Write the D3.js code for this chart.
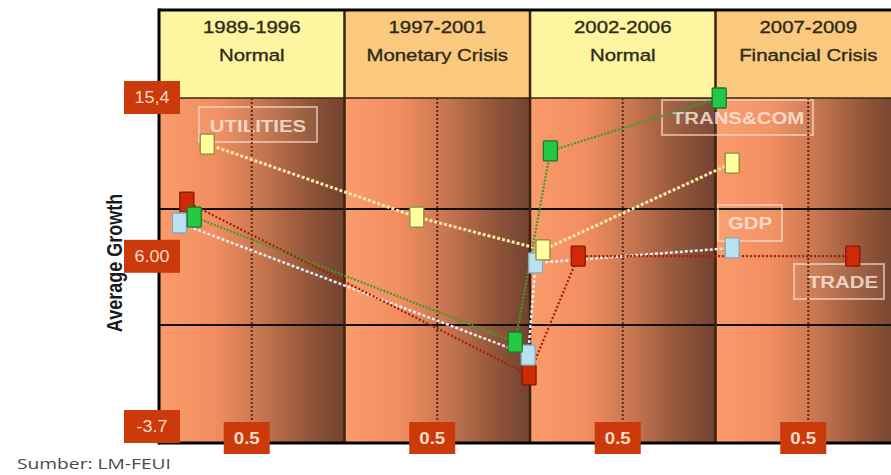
<!DOCTYPE html>
<html>
<head>
<meta charset="utf-8">
<script src="https://cdn.jsdelivr.net/npm/d3@7"></script>
<style>
  body { margin: 0; background: #fff; }
  svg { display: block; }
</style>
</head>
<body>
<svg id="chart" width="891" height="475"></svg>
<script>
// Periods and their economic regime
const periods = ["1989-1996", "1997-2001", "2002-2006", "2007-2009"];
const periodNames = ["Normal", "Monetary Crisis", "Normal", "Financial Crisis"];

// Position of each observation inside its period (0..1) and its average growth (%)
const utilitiesPos    = [0.26, 0.39, 0.07, 0.09];
const utilitiesGrowth = [12.85, 8.81, 6.99, 11.80];
const transComPos     = [0.19, 0.92, 0.11, 0.02];
const transComGrowth  = [8.81, 1.89, 12.47, 15.4];
const gdpPos          = [0.11, 0.99, 0.03, 0.09];
const gdpGrowth       = [8.48, 1.17, 6.27, 7.10];
const tradePos        = [0.15, 0.995, 0.26, 0.74];
const tradeGrowth     = [9.64, 0.07, 6.65, 6.65];

// Axis labels
const yTickValues = [15.4, 6.00, -3.7];
const yTickLabels = ["15,4", "6.00", "-3.7"];
const xTickValue  = 0.5;
const xTickLabels = ["0.5", "0.5", "0.5", "0.5"];
const gridValues  = [9.25, 2.83];

(function draw() {
const svg = d3.select("#chart");
const frameTop = 10, headBottom = 98, plotBottom = 443, plotLeft = 159;

const x = d3.scaleLinear().domain([0, 4]).range([plotLeft, 901]);
const y = d3.scaleLinear().domain([-3.7, 15.4]).range([plotBottom, headBottom]);

// Stretched text helper
function txt(g, px, py, str, o) {
  const t = g.append("text")
    .attr("transform", `translate(${px},${py}) scale(${o.sx || 1},${o.sy || 1})`)
    .attr("text-anchor", "middle")
    .attr("font-family", o.family || "'Liberation Sans', Arial, sans-serif")
    .attr("font-size", o.size)
    .attr("font-weight", o.weight || "normal")
    .attr("fill", o.fill)
    .text(str);
  if (o.heavy) t.attr("stroke", o.fill).attr("stroke-width", o.heavy);
  return t;
}

// Column shading
const defs = svg.append("defs");
const grad = defs.append("linearGradient").attr("id", "colShade")
  .attr("x1", 0).attr("x2", 1).attr("y1", 0).attr("y2", 0);
[[0, "#fa9b6b"], [0.3, "#f28e60"], [0.55, "#c67650"], [0.8, "#93563a"], [1, "#724230"]]
  .forEach(([o, c]) => grad.append("stop").attr("offset", o).attr("stop-color", c));

const cols = svg.append("g");
periods.forEach((p, i) => {
  cols.append("rect")
    .attr("x", x(i)).attr("y", headBottom)
    .attr("width", x(i + 1) - x(i)).attr("height", plotBottom - headBottom)
    .attr("fill", "url(#colShade)");
  cols.append("rect")
    .attr("x", x(i)).attr("y", frameTop)
    .attr("width", x(i + 1) - x(i)).attr("height", headBottom - frameTop)
    .attr("fill", i % 2 === 0 ? "#fdf5a0" : "#fbc97e");
});

// Header text
const head = svg.append("g");
periods.forEach((p, i) => {
  const cx = (x(i) + x(i + 1)) / 2;
  txt(head, cx, 33, p, { size: 17, sx: 1.2, fill: "#2e2b18", heavy: 0.35 });
  txt(head, cx, 61, periodNames[i], { size: 17, sx: 1.2, fill: "#2e2b18", heavy: 0.35 });
});

// Horizontal rules
const grid = svg.append("g");
grid.append("line").attr("x1", plotLeft).attr("x2", 891)
  .attr("y1", headBottom).attr("y2", headBottom)
  .attr("stroke", "#3b2413").attr("stroke-width", 1.5);
gridValues.forEach(v => {
  grid.append("line").attr("x1", plotLeft).attr("x2", 891)
    .attr("y1", y(v)).attr("y2", y(v))
    .attr("stroke", "#111").attr("stroke-width", 2);
});
// Column dividers
d3.range(1, 4).forEach(i => {
  grid.append("line").attr("x1", x(i)).attr("x2", x(i))
    .attr("y1", frameTop).attr("y2", plotBottom)
    .attr("stroke", "#3a2212").attr("stroke-width", 2.5);
});

// Series name tags
const tags = [
  { name: "UTILITIES", x: 199, y: 107, w: 118, h: 35, tx: 258, ty: 132 },
  { name: "TRANS&COM", x: 662, y: 100, w: 151, h: 35, tx: 738, ty: 124 },
  { name: "GDP",       x: 718, y: 205, w: 64,  h: 36, tx: 750, ty: 229 },
  { name: "TRADE",     x: 794, y: 264, w: 90,  h: 35, tx: 843, ty: 288 }
];
const tagG = svg.append("g");
tags.forEach(t => {
  tagG.append("rect").attr("x", t.x).attr("y", t.y).attr("width", t.w).attr("height", t.h)
    .attr("fill", "rgba(255,235,220,0.06)")
    .attr("stroke", "rgba(255,225,205,0.6)").attr("stroke-width", 2);
  txt(tagG, t.tx, t.ty, t.name, { size: 17, weight: "bold", sx: 1.2, fill: "rgba(255,236,224,0.8)" });
});

// Dotted mid-period lines
const mid = svg.append("g");
periods.forEach((p, i) => {
  mid.append("line").attr("x1", x(i + xTickValue)).attr("x2", x(i + xTickValue))
    .attr("y1", headBottom).attr("y2", plotBottom)
    .attr("stroke", "#5c2a14").attr("stroke-width", 2).attr("stroke-dasharray", "2,2");
});

// Series
const series = [
  { name: "UTILITIES", pos: utilitiesPos, growth: utilitiesGrowth,
    line: "#fbeaa2", dash: "3,2", lw: 3, fill: "#ffff9e", stroke: "#8c8a3a" },
  { name: "GDP", pos: gdpPos, growth: gdpGrowth,
    line: "#e2eef2", dash: "3,2", lw: 2.5, fill: "#b9e1f0", stroke: "#8aa6b4" },
  { name: "TRANS&COM", pos: transComPos, growth: transComGrowth,
    line: "#3f9b2d", dash: "2,1.5", lw: 2.2, fill: "#23c845", stroke: "#167a26" },
  { name: "TRADE", pos: tradePos, growth: tradeGrowth,
    line: "#a81c00", dash: "2,2", lw: 2.2, fill: "#cf2a05", stroke: "#861800" }
];
const pts = s => s.pos.map((p, i) => [x(i + p), y(s.growth[i])]);
const lineGen = d3.line();

const lines = svg.append("g");
series.forEach(s => {
  lines.append("path").attr("d", lineGen(pts(s)))
    .attr("fill", "none").attr("stroke", s.line)
    .attr("stroke-width", s.lw).attr("stroke-dasharray", s.dash);
});

const markOrder = ["TRADE", "GDP", "UTILITIES", "TRANS&COM"];
const marks = svg.append("g");
markOrder.forEach(n => {
  const s = series.find(d => d.name === n);
  marks.selectAll(null).data(pts(s)).join("rect")
    .attr("x", d => d[0] - 7).attr("y", d => d[1] - 10)
    .attr("width", 14).attr("height", 20).attr("rx", 1)
    .attr("fill", s.fill).attr("stroke", s.stroke).attr("stroke-width", 1.3);
});

// Frame
const frame = svg.append("g").attr("stroke", "#000").attr("stroke-width", 3);
frame.append("line").attr("x1", plotLeft).attr("x2", 891).attr("y1", frameTop).attr("y2", frameTop);
frame.append("line").attr("x1", plotLeft).attr("x2", plotLeft).attr("y1", frameTop - 1.5).attr("y2", plotBottom + 1.5);
frame.append("line").attr("x1", plotLeft).attr("x2", 891).attr("y1", plotBottom).attr("y2", plotBottom);

// Y axis title
svg.append("text")
  .attr("transform", "translate(122,263) rotate(-90) scale(1,1.2)")
  .attr("text-anchor", "middle")
  .attr("font-family", "'Liberation Sans', Arial, sans-serif")
  .attr("font-size", 18).attr("font-weight", "bold").attr("fill", "#1a1a1a")
  .text("Average Growth");

// Tick boxes
const ticks = svg.append("g");
const boxFill = "#cc3a0c", boxText = "#fbdcc4";
yTickValues.forEach((v, i) => {
  const n = yTickValues.length;
  const cy = i === 0 ? y(v) - 1 : (i === n - 1 ? y(v) - 17 : y(v) - 12);
  ticks.append("rect").attr("x", 124).attr("y", cy - 16).attr("width", 56).attr("height", 33)
    .attr("fill", boxFill);
  txt(ticks, 152, cy + 6, yTickLabels[i], { size: 16, sx: 1.12, fill: boxText });
});
xTickLabels.forEach((lab, i) => {
  const cx = x(i + xTickValue) - 5;
  ticks.append("rect").attr("x", cx - 23).attr("y", 422).attr("width", 46).attr("height", 32)
    .attr("fill", boxFill);
  txt(ticks, cx, 444, lab, { size: 17, weight: "bold", sx: 1.1, fill: boxText });
});

// Source note
svg.append("text")
  .attr("x", 17).attr("y", 469)
  .attr("font-family", "'Open Sans', sans-serif")
  .attr("font-size", 15).attr("fill", "#4a4a4a")
  .attr("textLength", 154).attr("lengthAdjust", "spacingAndGlyphs")
  .text("Sumber: LM-FEUI");
})();
</script>
</body>
</html>
